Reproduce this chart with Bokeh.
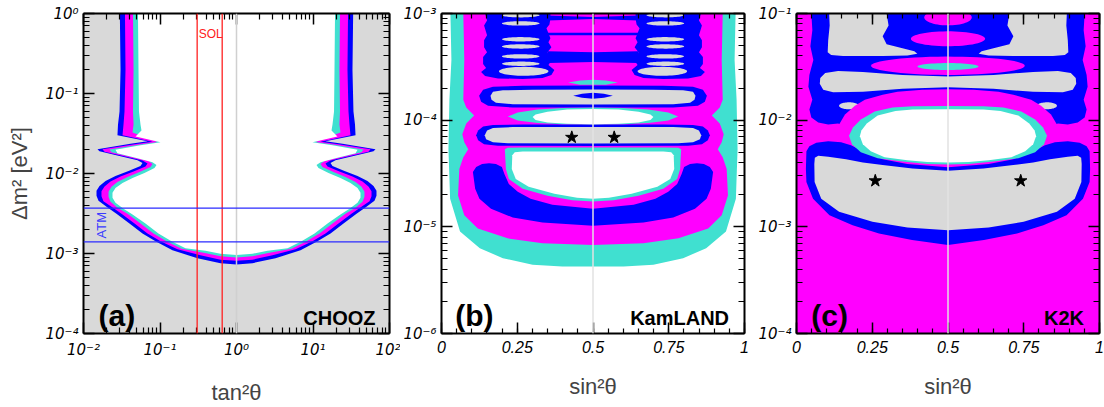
import numpy as np
from bokeh.plotting import figure
from bokeh.layouts import row
from bokeh.models import FixedTicker, Span, LogAxis, LinearAxis, CustomJSTickFormatter
from bokeh.embed import file_html
from bokeh.resources import INLINE
from bokeh.core.properties import value

GRAY = "#d9d9d9"; BLUE = "#0000ff"; MAG = "#ff00ff"; CYAN = "#40e0d0"; WHITE = "#ffffff"

# ---------------- Panel (a) CHOOZ: left half of each contour, log10(tan^2) / log10(dm2) ----------------
CH_B_LX = [-1.525,-1.516,-1.529,-1.549,-1.556,-1.163,-1.386,-1.817,-1.791,-1.516,-1.294,-1.229,-1.255,-1.412,-1.582,-1.712,-1.791,-1.830,-1.830,-1.804,-1.699,-1.569,-1.399,-1.229,-1.059,-0.837,-0.510,-0.209,0.0]
CH_B_LY = [0.0,-0.706,-1.226,-1.387,-1.523,-1.598,-1.628,-1.697,-1.721,-1.783,-1.833,-1.870,-1.907,-1.969,-2.031,-2.093,-2.155,-2.217,-2.279,-2.341,-2.415,-2.502,-2.625,-2.749,-2.848,-2.960,-3.059,-3.121,-3.137]
CH_M_LX = [-1.458,-1.451,-1.464,-1.477,-1.490,-1.098,-1.333,-1.752,-1.725,-1.451,-1.229,-1.163,-1.190,-1.346,-1.516,-1.647,-1.725,-1.765,-1.765,-1.739,-1.634,-1.503,-1.333,-1.163,-0.993,-0.771,-0.471,-0.209,0.0]
CH_M_LY = [0.0,-0.706,-1.226,-1.387,-1.523,-1.604,-1.635,-1.697,-1.728,-1.789,-1.839,-1.876,-1.913,-1.975,-2.037,-2.099,-2.161,-2.223,-2.285,-2.347,-2.415,-2.502,-2.625,-2.749,-2.848,-2.947,-3.022,-3.077,-3.092]
CH_C_LX = [-1.353,-1.346,-1.353,-1.346,-1.359,-1.033,-1.281,-1.660,-1.634,-1.359,-1.150,-1.098,-1.124,-1.268,-1.425,-1.556,-1.634,-1.673,-1.673,-1.647,-1.556,-1.425,-1.255,-1.085,-0.915,-0.719,-0.431,-0.209,0.0]
CH_C_LY = [0.0,-0.706,-1.226,-1.387,-1.486,-1.607,-1.641,-1.700,-1.734,-1.796,-1.845,-1.882,-1.920,-1.981,-2.043,-2.105,-2.167,-2.229,-2.291,-2.353,-2.427,-2.502,-2.625,-2.749,-2.848,-2.941,-2.991,-3.034,-3.050]
CH_W_LX = [-1.288,-1.281,-1.275,-1.255,-1.242,-1.320,-0.993,-1.255,-1.582,-1.556,-1.294,-1.098,-1.046,-1.072,-1.203,-1.359,-1.490,-1.582,-1.621,-1.621,-1.582,-1.477,-1.359,-1.190,-1.020,-0.850,-0.667,-0.405,-0.209,0.0]
CH_W_LY = [0.0,-0.706,-1.226,-1.387,-1.461,-1.536,-1.610,-1.647,-1.703,-1.746,-1.808,-1.858,-1.895,-1.932,-1.994,-2.056,-2.118,-2.180,-2.241,-2.303,-2.365,-2.440,-2.514,-2.625,-2.749,-2.848,-2.935,-2.966,-3.003,-3.018]
SOL_TAN2 = [0.306, 0.65]
ATM_DM2 = [3.7e-3, 1.4e-3]

# ---------------- Panel (b) KamLAND: left halves, sin^2 / log10(dm2) ----------------
KL_CY_S = [0.0294,0.0327,0.0261,0.0229,0.0284,0.0611,0.1265,0.2026,0.3007,0.3987,0.5]
KL_CY_L = [-3.0,-3.437,-3.808,-4.273,-4.737,-5.043,-5.201,-5.294,-5.356,-5.371,-5.371]
KL_MG_S = [0.0719,0.0752,0.0719,0.0817,0.1078,0.0817,0.0686,0.0752,0.0882,0.0719,0.0588,0.0546,0.0752,0.1199,0.218,0.3333,0.5]
KL_MG_L = [-3.0,-3.437,-3.808,-3.882,-3.957,-4.031,-4.133,-4.208,-4.273,-4.347,-4.458,-4.706,-4.892,-5.016,-5.108,-5.155,-5.171]
KL_CR_S = [0.5,0.366,0.2941,0.2516,0.2222,0.2075,0.1993,0.1797,0.1569,0.134,0.1144,0.1036,0.1111,0.1252,0.1634,0.2353,0.3333,0.5]
KL_CR_L = [-4.830,-4.793,-4.737,-4.672,-4.598,-4.505,-4.440,-4.412,-4.403,-4.412,-4.440,-4.486,-4.644,-4.737,-4.830,-4.913,-4.960,-4.990]
KL_OC_S = [0.5,0.268,0.219,0.209,0.2108,0.2124,0.2222,0.268,0.3497,0.4314,0.5]
KL_OC_L = [-4.257,-4.257,-4.259,-4.273,-4.365,-4.458,-4.551,-4.644,-4.709,-4.751,-4.762]
KL_OW_S = [0.5,0.268,0.2418,0.2337,0.232,0.2451,0.2876,0.3725,0.4477,0.5]
KL_OW_L = [-4.294,-4.294,-4.300,-4.328,-4.458,-4.551,-4.625,-4.690,-4.728,-4.737]
KL_SB_S = [0.5,0.268,0.1699,0.1373,0.1209,0.1144,0.1209,0.1405,0.1863,0.5]
KL_SB_L = [-4.040,-4.040,-4.045,-4.059,-4.096,-4.142,-4.189,-4.226,-4.240,-4.242]
KL_SG_S = [0.5,0.2353,0.1699,0.1503,0.1428,0.1471,0.1699,0.219,0.5]
KL_SG_L = [-4.065,-4.065,-4.073,-4.096,-4.142,-4.180,-4.208,-4.217,-4.219]
KL_LC_S = [0.5,0.3987,0.317,0.2516,0.219,0.2516,0.317,0.3987,0.5]
KL_LC_L = [-3.882,-3.887,-3.901,-3.929,-3.966,-4.003,-4.026,-4.038,-4.040]
KL_LW_S = [0.5,0.415,0.3497,0.3105,0.3007,0.3105,0.3497,0.415,0.5]
KL_LW_L = [-3.896,-3.901,-3.920,-3.947,-3.971,-3.998,-4.022,-4.034,-4.038]
KL_GB_S = [0.5,0.268,0.1699,0.1373,0.1242,0.1307,0.1536,0.2353,0.5]
KL_GB_L = [-3.675,-3.678,-3.687,-3.715,-3.771,-3.827,-3.864,-3.882,-3.882]
KL_GG_S = [0.5,0.3007,0.2026,0.1699,0.1618,0.165,0.1797,0.2353,0.5]
KL_GG_L = [-3.7125,-3.715,-3.720,-3.734,-3.771,-3.808,-3.836,-3.850,-3.852]
KL_SP_S = [0.5,0.464,0.4346,0.464,0.5]
KL_SP_L = [-3.743,-3.752,-3.771,-3.789,-3.799]
KL_CE_S = [0.5,0.4575,0.4183,0.4575,0.5]
KL_CE_L = [-3.620,-3.627,-3.6465,-3.667,-3.669]
KL_COL_S = [0.1438,0.1503,0.1405,0.1503,0.1405,0.1405,0.1503,0.1373,0.1373,0.1471,0.1307,0.1438,0.1863,0.268,
            0.3333,0.3627,0.3725,0.3529,0.3595,0.3562,0.3497,0.3627,0.3529,0.3595,0.3529,0.3464,0.3562,0.3595,0.3595]
KL_COL_L = [-3.0,-3.0651,-3.1115,-3.2044,-3.2509,-3.3159,-3.3623,-3.4087,-3.4738,-3.5109,-3.5481,-3.5852,-3.6084,-3.6131,
            -3.6038,-3.5759,-3.5295,-3.483,-3.4552,-3.4087,-3.3623,-3.3159,-3.2694,-3.2323,-3.1858,-3.1394,-3.1023,-3.0465,-3.0]
KL_GE_S = [0.2614,0.2614,0.2614,0.2614,0.2614,0.2614,0.2712]
KL_GE_HS = [0.0621,0.0621,0.0621,0.0621,0.0621,0.0621,0.0817]
KL_GE_L = [-3.016,-3.093,-3.2416,-3.309,-3.402,-3.471,-3.542]
KL_GE_HL = [0.0204,0.0204,0.0204,0.0204,0.0204,0.0204,0.0418]
KL_S1_S = [0.3497,0.5,0.6503,0.6503,0.5,0.3497]; KL_S1_L = [-3.0186,-3.0326,-3.0186,-3.0651,-3.0511,-3.0651]
KL_S2_S = [0.3497,0.6503,0.6503,0.3497];          KL_S2_L = [-3.1812,-3.1812,-3.2044,-3.2044]
KL_S3_S = [0.3497,0.5,0.6503,0.6503,0.5,0.3497]; KL_S3_L = [-3.353,-3.3623,-3.353,-3.4645,-3.4552,-3.4645]
KL_STAR_S = [0.43, 0.57]; KL_STAR_DM = [6.9e-5, 6.9e-5]

# ---------------- Panel (c) K2K ----------------
K2_BU_S = [0.5,0.049,0.0523,0.0458,0.0556,0.0425,0.0392,0.0523,0.0425,0.049,0.0719,0.1046,0.1373,0.1863,0.5]
K2_BU_L = [-1.0,-1.0,-1.158,-1.3066,-1.4366,-1.576,-1.6874,-1.8081,-1.901,-1.9753,-2.0217,-2.0403,-2.031,-2.0867,-2.1796]
K2_GT_S = [0.1078,0.2974,0.3039,0.2843,0.2974,0.3497,0.3889,0.3987,0.366,0.2843,0.1536,0.1144,0.1029,0.1046,0.1095]
K2_GT_L = [-1.0,-1.0,-1.1115,-1.2137,-1.288,-1.3252,-1.353,-1.3762,-1.3948,-1.3994,-1.3994,-1.390,-1.3623,-1.251,-1.1115]
K2_GB_S = [0.5,0.3497,0.219,0.1373,0.0948,0.0784,0.0768,0.0882,0.1209,0.219,0.3497,0.5]
K2_GB_L = [-1.590,-1.576,-1.5481,-1.5388,-1.5574,-1.604,-1.6595,-1.7152,-1.7385,-1.7338,-1.706,-1.692]
K2_ME_L = [-1.037, -1.237]; K2_ME_HS = [0.0784, 0.1225]; K2_ME_HL = [0.0743, 0.0697]
K2_SPIN = (-1.490, 0.2533, 0.0859)
K2_CE = (-1.497, 0.1007, 0.0325)
K2_SG_S = [0.1732, 0.8268]; K2_SG_L = -1.865; K2_SG_HS = 0.0327; K2_SG_HL = 0.0325
K2_ML_S = [0.5,0.415,0.3333,0.2843,0.2255,0.1928,0.1601,0.1405,0.1307,0.1405,0.1699,0.2516,0.3497,0.5]
K2_ML_L = [-1.7106,-1.7152,-1.7338,-1.7617,-1.8081,-1.864,-1.9474,-2.0403,-2.1424,-2.2539,-2.3468,-2.4025,-2.4304,-2.4424]
K2_BB_S = [0.5,0.366,0.2843,0.219,0.1797,0.1471,0.1046,0.0654,0.0425,0.0327,0.031,0.0327,0.0546,0.1088,0.1853,0.2722,0.3814,0.5]
K2_BB_L = [-2.4424,-2.4118,-2.3654,-2.291,-2.2353,-2.2075,-2.1982,-2.2121,-2.2446,-2.291,-2.4582,-2.579,-2.7369,-2.892,-2.9849,-3.062,-3.1242,-3.1706]
K2_BG_S = [0.5,0.3824,0.2843,0.219,0.1634,0.1046,0.0719,0.0605,0.0588,0.0598,0.0817,0.1405,0.2507,0.366,0.5]
K2_BG_L = [-2.474,-2.4536,-2.4211,-2.396,-2.3654,-2.3421,-2.3347,-2.3514,-2.4118,-2.579,-2.7369,-2.8576,-2.9533,-3.0062,-3.0313]
K2_OC_S = [0.5,0.3824,0.317,0.2582,0.2124,0.1863,0.1732,0.183,0.2124,0.268,0.3497,0.4314,0.5]
K2_OC_L = [-1.8666,-1.8685,-1.8824,-1.9196,-1.9939,-2.0682,-2.1471,-2.226,-2.3003,-2.3561,-2.3886,-2.410,-2.4146]
K2_OW_S = [0.5,0.3824,0.3268,0.268,0.232,0.2141,0.2092,0.219,0.2451,0.2908,0.366,0.4314,0.5]
K2_OW_L = [-1.8982,-1.901,-1.9149,-1.9567,-2.031,-2.096,-2.1518,-2.226,-2.291,-2.3468,-2.3747,-2.3932,-2.3979]
K2_STAR_S = [0.26, 0.74]; K2_STAR_DM = [2.7e-3, 2.7e-3]

# ---------------- labels ----------------
A_TXT = dict(x=[0.0157], y=[1.66e-4], t=["(a)"]); A_NAME = dict(x=[65.6], y=[1.58e-4], t=["CHOOZ"])
B_TXT = dict(x=[0.045], y=[1.46e-6], t=["(b)"]); B_NAME = dict(x=[0.949], y=[1.41e-6], t=["KamLAND"])
C_TXT = dict(x=[0.049], y=[1.46e-4], t=["(c)"]); C_NAME = dict(x=[0.949], y=[1.41e-4], t=["K2K"])
SOL_LBL = dict(x=[0.32], y=[0.56], t=["SOL"]); ATM_LBL = dict(x=[0.0172], y=[2.26e-3], t=["ATM"])

FONT = "Liberation Sans"
TICKFONT = "DejaVu Sans"


def mirror_log(lx, ly):
    xs = list(lx) + [-v for v in reversed(lx[:-1])]
    ys = list(ly) + list(reversed(ly[:-1]))
    return [10 ** v for v in xs], [10 ** v for v in ys]


def mirror_s(s, ly):
    xs = list(s) + [1 - v for v in reversed(s[:-1])]
    ys = list(ly) + list(reversed(ly[:-1]))
    return xs, [10 ** v for v in ys]


def oval(cx, hx, cl, hl, n=60):
    t = np.linspace(0, 2 * np.pi, n)
    return list(cx + hx * np.cos(t)), list(10 ** (cl + hl * np.sin(t)))


def sup_fmt():
    return CustomJSTickFormatter(code="""
const m = {"-":"\u207b","0":"\u2070","1":"\u00b9","2":"\u00b2","3":"\u00b3","4":"\u2074","5":"\u2075","6":"\u2076","7":"\u2077","8":"\u2078","9":"\u2079"};
const e = Math.round(Math.log10(tick));
return "10" + String(e).split("").map(c => m[c]).join("");
""")


def style_axis(ax, ticker, fmt, labels=True, minor=6, font=TICKFONT, size="15px"):
    ax.ticker = ticker
    ax.axis_line_width = 2
    ax.axis_line_color = "black"
    ax.major_tick_in = 11; ax.major_tick_out = 0
    ax.minor_tick_in = minor; ax.minor_tick_out = 0
    ax.major_tick_line_width = 1.5; ax.minor_tick_line_width = 1.2
    ax.major_tick_line_color = "black"; ax.minor_tick_line_color = "black"
    if labels:
        ax.formatter = fmt
        ax.major_label_text_font = font
        ax.major_label_text_font_style = "italic"
        ax.major_label_text_font_size = size
        ax.major_label_text_color = "black"
    else:
        ax.formatter = CustomJSTickFormatter(code="return ''")
        ax.major_label_standoff = 0


def log_ticker(k0, k1):
    maj = [10.0 ** k for k in range(k0, k1 + 1)]
    mnr = [m * 10.0 ** k for k in range(k0, k1) for m in range(2, 10)]
    return FixedTicker(ticks=maj, minor_ticks=mnr)


def lin_ticker():
    return FixedTicker(ticks=[0, 0.25, 0.5, 0.75, 1.0], minor_ticks=[i * 0.05 for i in range(21)])


def lin_fmt():
    return CustomJSTickFormatter(code="return String(tick)")


def make_fig(w, bl, br, xr, yr, xlog, xt, yt, xlab, ylab=None):
    p = figure(width=w, height=407, x_range=xr, y_range=yr,
               x_axis_type="log" if xlog else "linear", y_axis_type="log",
               output_backend="svg", toolbar_location=None,
               min_border_left=bl, min_border_right=br, min_border_top=13, min_border_bottom=71)
    p.grid.visible = False
    p.outline_line_color = None
    p.border_fill_color = "white"
    xa = p.xaxis[0]; ya = p.yaxis[0]
    if xlog:
        style_axis(xa, xt, sup_fmt(), minor=6)
    else:
        style_axis(xa, xt, lin_fmt(), minor=5, font=FONT, size="16px")
    style_axis(ya, yt, sup_fmt())
    xa.major_label_standoff = 7
    ya.major_label_standoff = 5
    xa.axis_label = xlab
    xa.axis_label_text_font = FONT
    xa.axis_label_text_font_style = "normal"
    xa.axis_label_text_font_size = "22px"
    xa.axis_label_standoff = 18
    if ylab:
        ya.axis_label = ylab
        ya.axis_label_text_font = FONT
        ya.axis_label_text_font_style = "normal"
        ya.axis_label_text_font_size = "22px"
        ya.axis_label_standoff = 10
    top = LogAxis() if xlog else LinearAxis()
    style_axis(top, xt, None, labels=False, minor=6 if xlog else 5)
    p.add_layout(top, "above")
    right = LogAxis()
    style_axis(right, yt, None, labels=False)
    p.add_layout(right, "right")
    return p


def patch(p, xs, ys, color):
    p.patch(xs, ys, fill_color=color, line_color=None)


def labels(p, d, size, align, color="black", bold=True, angle=0.0, baseline="alphabetic"):
    p.text(x=d["x"], y=d["y"], text=d["t"], text_font=value(FONT), text_font_size=size,
           text_font_style="bold" if bold else "normal", text_align=align,
           text_baseline=baseline, text_color=color, angle=angle)


# ---------------- (a) ----------------
fa = make_fig(400, 83, 11, (1e-2, 1e2), (1e-4, 1.0), True, log_ticker(-2, 2), log_ticker(-4, 0),
              "tan\u00b2\u03b8", "\u0394m\u00b2 [eV\u00b2]")
fa.background_fill_color = GRAY
for lx, ly, col in [(CH_B_LX, CH_B_LY, BLUE), (CH_M_LX, CH_M_LY, MAG), (CH_C_LX, CH_C_LY, CYAN), (CH_W_LX, CH_W_LY, WHITE)]:
    xs, ys = mirror_log(lx, ly)
    patch(fa, xs, ys, col)
fa.add_layout(Span(location=1.0, dimension="height", line_color="#d0d0d0", line_width=1.5))
for v in SOL_TAN2:
    fa.add_layout(Span(location=v, dimension="height", line_color="#ff2020", line_width=1.3))
for v in ATM_DM2:
    fa.add_layout(Span(location=v, dimension="width", line_color="#2a2aff", line_width=1.3))
labels(fa, SOL_LBL, "12px", "left", color="#ff2020", bold=False)
labels(fa, ATM_LBL, "13px", "center", color="#3a3aff", bold=False, angle=np.pi / 2, baseline="middle")
labels(fa, A_TXT, "30px", "left")
labels(fa, A_NAME, "20px", "right")

# ---------------- (b) ----------------
fb = make_fig(355, 38, 11, (0, 1), (1e-6, 1e-3), False, lin_ticker(), log_ticker(-6, -3), "sin\u00b2\u03b8")
fb.background_fill_color = WHITE
patch(fb, *mirror_s(KL_CY_S, KL_CY_L), CYAN)
patch(fb, *mirror_s(KL_MG_S, KL_MG_L), MAG)
patch(fb, *mirror_s(KL_CR_S, KL_CR_L), BLUE)
patch(fb, KL_COL_S, [10 ** v for v in KL_COL_L], BLUE)
patch(fb, [1 - v for v in KL_COL_S], [10 ** v for v in KL_COL_L], BLUE)
for s_, l_ in [(KL_S1_S, KL_S1_L), (KL_S2_S, KL_S2_L), (KL_S3_S, KL_S3_L)]:
    patch(fb, s_, [10 ** v for v in l_], BLUE)
patch(fb, *mirror_s(KL_GB_S, KL_GB_L), BLUE)
patch(fb, *mirror_s(KL_SB_S, KL_SB_L), BLUE)
for cx, hx, cl, hl in zip(KL_GE_S, KL_GE_HS, KL_GE_L, KL_GE_HL):
    patch(fb, *oval(cx, hx, cl, hl), GRAY)
    patch(fb, *oval(1 - cx, hx, cl, hl), GRAY)
patch(fb, *mirror_s(KL_GG_S, KL_GG_L), GRAY)
patch(fb, *mirror_s(KL_SG_S, KL_SG_L), GRAY)
patch(fb, *mirror_s(KL_SP_S, KL_SP_L), BLUE)
patch(fb, *mirror_s(KL_CE_S, KL_CE_L), CYAN)
patch(fb, *mirror_s(KL_LC_S, KL_LC_L), CYAN)
patch(fb, *mirror_s(KL_OC_S, KL_OC_L), CYAN)
patch(fb, *mirror_s(KL_LW_S, KL_LW_L), WHITE)
patch(fb, *mirror_s(KL_OW_S, KL_OW_L), WHITE)
fb.add_layout(Span(location=0.5, dimension="height", line_color="#e2e2e2", line_width=1.5))
fb.scatter(KL_STAR_S, KL_STAR_DM, marker="star", size=13, color="black")
labels(fb, B_TXT, "30px", "left")
labels(fb, B_NAME, "20px", "right")

# ---------------- (c) ----------------
fc = make_fig(349, 38, 5, (0, 1), (1e-4, 1e-1), False, lin_ticker(), log_ticker(-4, -1), "sin\u00b2\u03b8")
fc.background_fill_color = MAG
patch(fc, *mirror_s(K2_BU_S, K2_BU_L), BLUE)
patch(fc, K2_GT_S, [10 ** v for v in K2_GT_L], GRAY)
patch(fc, [1 - v for v in K2_GT_S], [10 ** v for v in K2_GT_L], GRAY)
patch(fc, *mirror_s(K2_GB_S, K2_GB_L), GRAY)
for sx in K2_SG_S:
    patch(fc, *oval(sx, K2_SG_HS, K2_SG_L, K2_SG_HL), GRAY)
for cl, hx, hl in zip(K2_ME_L, K2_ME_HS, K2_ME_HL):
    patch(fc, *oval(0.5, hx, cl, hl), MAG)
patch(fc, *oval(0.5, K2_SPIN[1], K2_SPIN[0], K2_SPIN[2]), MAG)
patch(fc, *oval(0.5, K2_CE[1], K2_CE[0], K2_CE[2]), CYAN)
patch(fc, *mirror_s(K2_ML_S, K2_ML_L), MAG)
patch(fc, *mirror_s(K2_BB_S, K2_BB_L), BLUE)
patch(fc, *mirror_s(K2_BG_S, K2_BG_L), GRAY)
patch(fc, *mirror_s(K2_OC_S, K2_OC_L), CYAN)
patch(fc, *mirror_s(K2_OW_S, K2_OW_L), WHITE)
fc.add_layout(Span(location=0.5, dimension="height", line_color="#e2e2e2", line_width=1.5))
fc.scatter(K2_STAR_S, K2_STAR_DM, marker="star", size=13, color="black")
labels(fc, C_TXT, "30px", "left")
labels(fc, C_NAME, "20px", "right")

layout = row(fa, fb, fc)
with open("out.html", "w", encoding="utf-8") as f:
    f.write(file_html(layout, INLINE))
